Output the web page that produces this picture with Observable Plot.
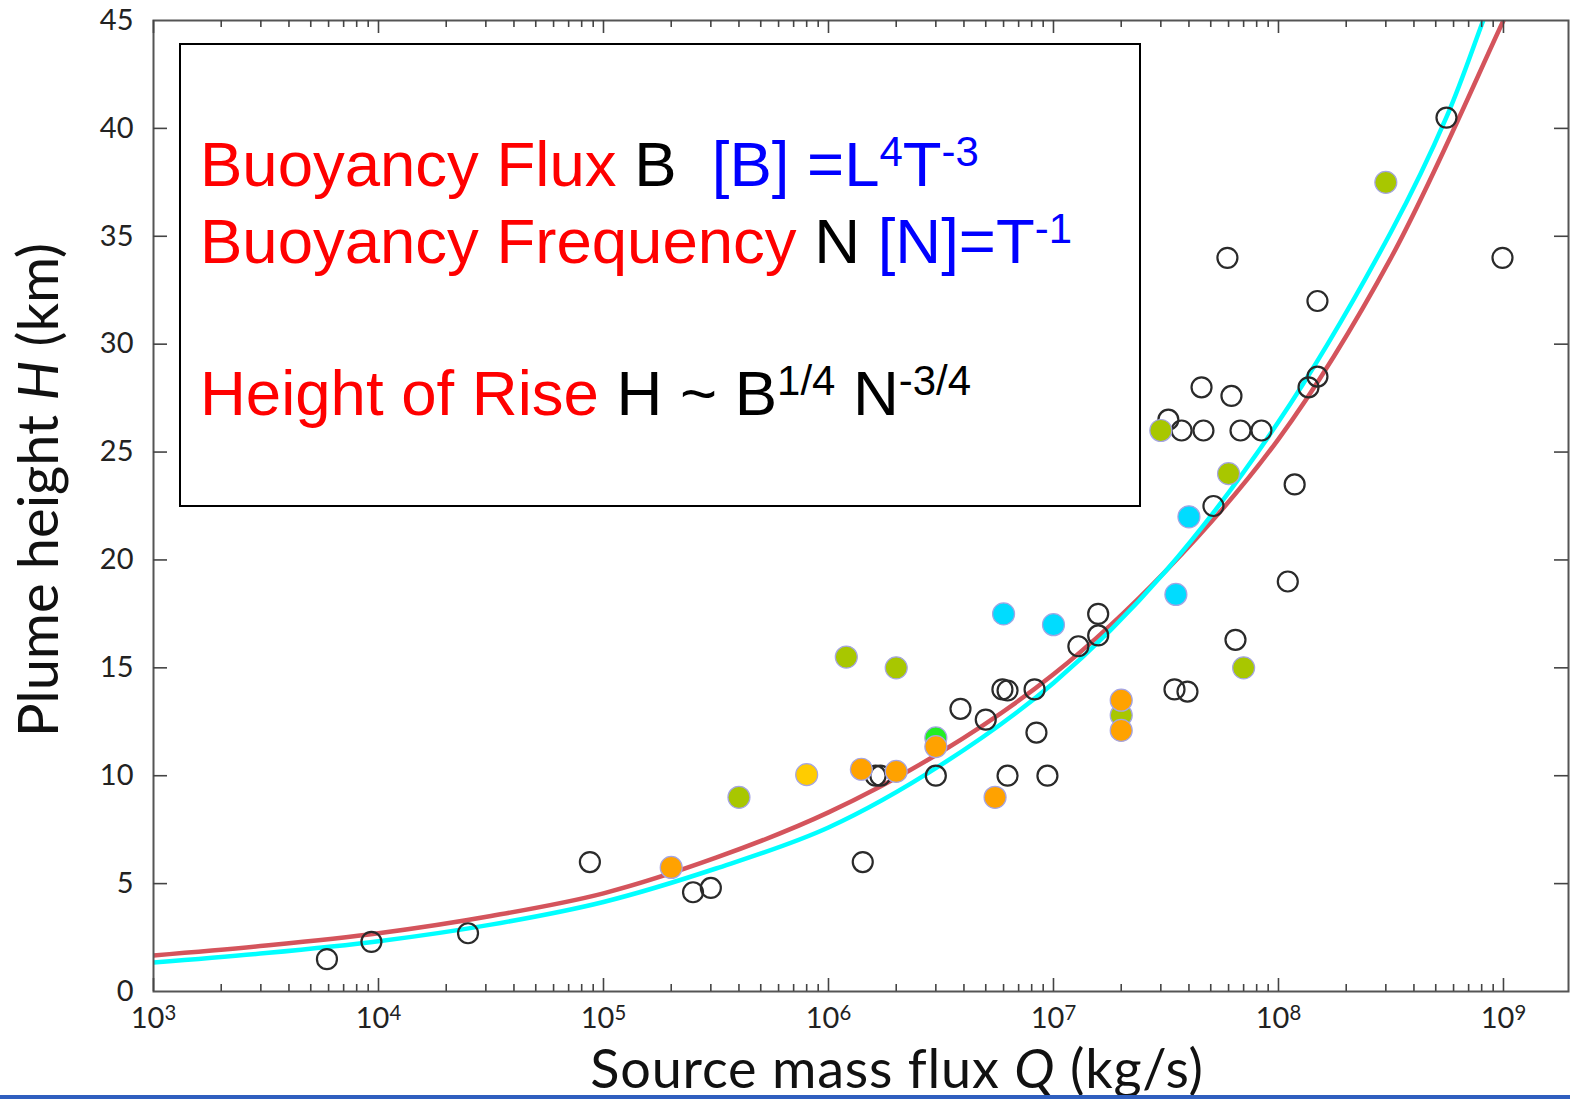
<!DOCTYPE html>
<html>
<head>
<meta charset="utf-8">
<script src="https://cdn.jsdelivr.net/npm/d3@7"></script>
<script src="https://cdn.jsdelivr.net/npm/@observablehq/plot@0.6"></script>
<style>
html,body{margin:0;padding:0;background:#fff;}
#wrap{position:relative;width:1570px;height:1099px;overflow:hidden;background:#fff;}
#wrap svg{position:absolute;left:0;top:0;}
#box{position:absolute;left:179px;top:43px;width:958px;height:460px;border:2px solid #000;background:#fff;}
.line{position:absolute;left:200px;font-family:"Liberation Sans",Arial,sans-serif;font-size:63.5px;line-height:63px;white-space:nowrap;}
.r{color:#ff0000}.k{color:#000}.b{color:#0000ff}
.sup{font-size:0.66em;position:relative;top:-0.48em;}
#blueline{position:absolute;left:0;top:1095px;width:1570px;height:4px;background:#2f5fbf;}
</style>
</head>
<body>
<div id="wrap">
  <div id="chart"></div>
  <div id="box"></div>
  <div class="line" style="top:133px"><span class="r">Buoyancy Flux</span><span class="k"> B</span><span class="b">&nbsp; [B] =L<span class="sup">4</span>T<span class="sup">-3</span></span></div>
  <div class="line" style="top:210px"><span class="r">Buoyancy Frequency</span><span class="k"> N </span><span class="b">[N]=T<span class="sup">-1</span></span></div>
  <div class="line" style="top:362px"><span class="r">Height of Rise</span><span class="k"> H ~ B<span class="sup">1/4</span> N<span class="sup">-3/4</span></span></div>
  <div id="blueline"></div>
</div>
<script>
// ---- data ----
// open (unfilled) observations: [Q kg/s, H km]
const openPoints = [
  [5.9e3,1.5],[9.3e3,2.3],[2.5e4,2.7],[8.7e4,6.0],[2.5e5,4.6],[3.0e5,4.8],
  [1.42e6,6.0],[1.62e6,10.0],[1.70e6,10.0],[3.0e6,10.0],[3.86e6,13.1],[5.0e6,12.6],
  [5.93e6,14.0],[6.25e6,13.95],[6.25e6,10.0],[8.24e6,14.0],[8.4e6,12.0],[9.4e6,10.0],
  [1.29e7,16.0],[1.58e7,17.5],[1.58e7,16.5],[3.45e7,14.0],[3.94e7,13.9],[3.24e7,26.5],
  [3.71e7,26.0],[4.55e7,28.0],[4.64e7,26.0],[5.14e7,22.5],[5.93e7,34.0],[6.18e7,27.6],
  [6.44e7,16.3],[6.78e7,26.0],[8.4e7,26.0],[1.1e8,19.0],[1.18e8,23.5],[1.36e8,28.0],
  [1.49e8,32.0],[1.49e8,28.5],[5.58e8,40.5],[9.9e8,34.0]
];
const olivePoints  = [[4e5,9.0],[1.2e6,15.5],[2e6,15.0],[2e7,12.8],[3e7,26.0],[6e7,24.0],[7e7,15.0],[3e8,37.5]];
const greenPoints  = [[3e6,11.75]];
const cyanPoints   = [[6e6,17.5],[1e7,17.0],[3.5e7,18.4],[4e7,22.0]];
const yellowPoints = [[8e5,10.05]];
const orangePoints = [[2e5,5.75],[1.4e6,10.3],[2e6,10.2],[3e6,11.35],[5.5e6,9.0],[2e7,13.5],[2e7,12.1]];
const categoryNames  = ["groupA","groupB","groupC","groupD","groupE"];
const categoryColors = ["#a8c700","#22ee22","#00dcff","#ffcc00","#ffa200"];

// model curves: log10(Q) and H (km)
const redCurveLogQ  = [3.0,3.5,4.0,4.5,5.0,5.5,6.0,6.5,7.0,7.5,8.0,8.5,9.0,9.1];
const redCurveH     = [1.67,2.13,2.70,3.50,4.55,6.2,8.3,11.1,14.7,19.5,25.6,34.0,45.0,47.2];
const cyanCurveLogQ = [3.0,3.5,4.0,4.5,5.0,5.5,6.0,6.5,7.0,7.5,8.0,8.5,8.75,8.91,9.0];
const cyanCurveH    = [1.34,1.78,2.33,3.10,4.15,5.7,7.6,10.5,14.3,19.5,26.4,35.2,40.6,45.0,47.5];

// axes
const yTickValues   = [0,5,10,15,20,25,30,35,40,45];
const yInnerTicks   = [5,10,15,20,25,30,35,40];
const xMajorTicks   = [1e3,1e4,1e5,1e6,1e7,1e8,1e9];
const xTickExponents= [3,4,5,6,7,8,9];
const xMinorTicks = [];
xMajorTicks.slice(0,-1).forEach(t => { for (let m = 2; m <= 9; m++) xMinorTicks.push(m * t); });

// ---- tables ----
const openData = openPoints.map(([Q,H]) => ({Q,H}));
const filledData = [
  ...olivePoints.map(([Q,H]) => ({Q,H,cat:"groupA"})),
  ...greenPoints.map(([Q,H]) => ({Q,H,cat:"groupB"})),
  ...cyanPoints.map(([Q,H]) => ({Q,H,cat:"groupC"})),
  ...yellowPoints.map(([Q,H]) => ({Q,H,cat:"groupD"})),
  ...orangePoints.map(([Q,H]) => ({Q,H,cat:"groupE"}))
];
const redCurve  = redCurveLogQ.map((l,i) => ({Q: Math.pow(10,l), H: redCurveH[i]}));
const cyanCurve = cyanCurveLogQ.map((l,i) => ({Q: Math.pow(10,l), H: cyanCurveH[i]}));

const W = 1570, Hh = 1099, mL = 153, mR = 2, mT = 20, mB = 108;
const frameW = W - mL - mR, frameH = Hh - mT - mB;
const tickCol = "#444";

const chart = Plot.plot({
  width: W, height: Hh,
  marginLeft: mL, marginRight: mR, marginTop: mT, marginBottom: mB,
  style: {fontFamily: "Lato, 'Open Sans', sans-serif", fontSize: "29px", color: "#222", background: "transparent"},
  x: {type: "log", domain: [1e3, Math.pow(10, 9.289)], label: null},
  y: {domain: [0,45], label: null},
  color: {type: "ordinal", domain: categoryNames, range: categoryColors, legend: false},
  marks: [
    Plot.line(redCurve,  {x:"Q", y:"H", stroke:"#d4545c", strokeWidth:4.5, curve:"catmull-rom", clip:true}),
    Plot.line(cyanCurve, {x:"Q", y:"H", stroke:"#00ffff", strokeWidth:4.5, curve:"catmull-rom", clip:true}),
    Plot.dot(openData,   {x:"Q", y:"H", r:10, stroke:"#2a2a2a", strokeWidth:2.2, fill:"none"}),
    Plot.dot(filledData, {x:"Q", y:"H", r:11, fill:"cat", stroke:"#a4a4e4", strokeWidth:1.2}),
    Plot.frame({stroke:"#555", strokeWidth:2}),
    // bottom ticks (inward)
    Plot.tickX(xMajorTicks, {x: d => d, insetTop: frameH - 13, stroke: tickCol, strokeWidth: 1.6}),
    Plot.tickX(xMinorTicks, {x: d => d, insetTop: frameH - 7,  stroke: tickCol, strokeWidth: 1.6}),
    // top ticks (inward)
    Plot.tickX(xMajorTicks, {x: d => d, insetBottom: frameH - 13, stroke: tickCol, strokeWidth: 1.6}),
    Plot.tickX(xMinorTicks, {x: d => d, insetBottom: frameH - 7,  stroke: tickCol, strokeWidth: 1.6}),
    // left/right ticks (inward)
    Plot.tickY(yInnerTicks, {y: d => d, insetRight: frameW - 14, stroke: tickCol, strokeWidth: 1.6}),
    Plot.tickY(yInnerTicks, {y: d => d, insetLeft:  frameW - 14, stroke: tickCol, strokeWidth: 1.6}),
    Plot.axisY(yTickValues, {tickSize: 0, tickPadding: 20, label: null, fontSize: 29}),
    Plot.axisX(xMajorTicks, {tickSize: 0, tickPadding: 16, label: null, fontSize: 29,
      tickFormat: d => "10^" + xTickExponents[xMajorTicks.indexOf(d)]})
  ]
});

document.getElementById("chart").appendChild(chart);

const svg = d3.select(chart);
// superscript exponents on the x tick labels
svg.selectAll("text").each(function() {
  const m = /^10\^(\d+)$/.exec(this.textContent);
  if (m) {
    const s = d3.select(this);
    s.text(null);
    s.append("tspan").text("10");
    s.append("tspan").attr("dy", "-0.42em").attr("font-size", "0.7em").text(m[1]);
  }
});
// axis titles
const xl = svg.append("text").attr("x", 897).attr("y", 1088).attr("text-anchor", "middle")
  .attr("font-size", 54).attr("letter-spacing", "0.8px").attr("fill", "#111");
xl.append("tspan").text("Source mass flux ");
xl.append("tspan").attr("font-style", "italic").text("Q");
xl.append("tspan").text(" (kg/s)");
const yl = svg.append("text").attr("transform", "translate(58,490) rotate(-90)").attr("text-anchor", "middle")
  .attr("font-size", 56).attr("fill", "#111");
yl.append("tspan").text("Plume height ");
yl.append("tspan").attr("font-style", "italic").text("H");
yl.append("tspan").text(" (km)");
</script>
</body>
</html>
